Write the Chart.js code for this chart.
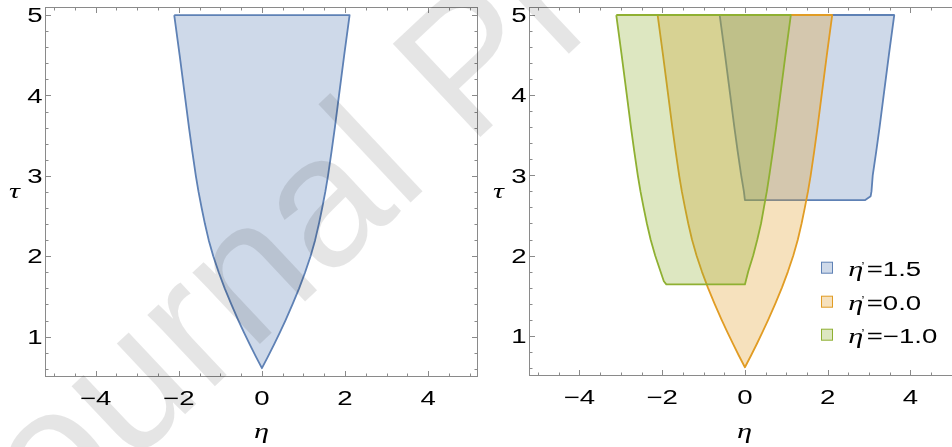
<!DOCTYPE html>
<html>
<head>
  <title>Region plots in the eta-tau plane</title>
  <script src="https://cdn.jsdelivr.net/npm/chart.js"></script>
  <style>
    body { margin: 0; background: #fff; }
    #wrap { position: relative; width: 952px; height: 447px; overflow: hidden; }
    canvas { position: absolute; top: 0; }
  </style>
</head>
<body>
<div id="wrap">
  <canvas id="leftChart" width="480" height="447" style="left:0px"></canvas>
  <canvas id="rightChart" width="482" height="447" style="left:480px"></canvas>
</div>

<script>
  // region for eta' = 0 (left panel and orange region)
  var etaZero = [-2.11, -1.98, -1.855, -1.755, -1.675, -1.59, -1.525, -1.45, -1.37, -1.28, -1.17, -1.04, -0.895, -0.735, -0.565, -0.43, -0.29, -0.145, 0,
                 0.145, 0.29, 0.43, 0.565, 0.735, 0.895, 1.04, 1.17, 1.28, 1.37, 1.45, 1.525, 1.59, 1.675, 1.755, 1.855, 1.98, 2.11, -2.11];
  var tauZero = [5, 4.5, 4.0, 3.6, 3.3, 3.0, 2.8, 2.6, 2.4, 2.2, 2.0, 1.8, 1.6, 1.4, 1.2, 1.05, 0.9, 0.75, 0.607,
                 0.75, 0.9, 1.05, 1.2, 1.4, 1.6, 1.8, 2.0, 2.2, 2.4, 2.6, 2.8, 3.0, 3.3, 3.6, 4.0, 4.5, 5, 5];

  // eta' = 1.5
  var etaBlue = [-0.61, -0.48, -0.355, -0.255, -0.175, -0.09, -0.025, 0.0, 2.90, 3.04, 3.06, 3.09, 3.175, 3.255, 3.355, 3.48, 3.61, -0.61];
  var tauBlue = [5, 4.5, 4.0, 3.6, 3.3, 3.0, 2.8, 2.69, 2.69, 2.74, 2.8, 3.0, 3.3, 3.6, 4.0, 4.5, 5, 5];

  // eta' = -1.0
  var etaGreen = [-3.11, -2.98, -2.855, -2.755, -2.675, -2.59, -2.525, -2.45, -2.37, -2.28, -2.17, -2.04, -1.96, -1.90, 0.0,
                  0.08, 0.20, 0.30, 0.39, 0.46, 0.53, 0.59, 0.675, 0.755, 0.855, 0.98, 1.11, -3.11];
  var tauGreen = [5, 4.5, 4.0, 3.6, 3.3, 3.0, 2.8, 2.6, 2.4, 2.2, 2.0, 1.8, 1.68, 1.64, 1.64,
                  1.8, 2.0, 2.2, 2.4, 2.6, 2.8, 3.0, 3.3, 3.6, 4.0, 4.5, 5, 5];

  var legendValues = ['1.5', '0.0', '\u22121.0'];

  // axes
  var xMajor = [-4, -2, 0, 2, 4];
  var xLabels = ['\u22124', '\u22122', '0', '2', '4'];
  var xMinor = [-5, -4.5, -3.5, -3, -2.5, -1.5, -1, -0.5, 0.5, 1, 1.5, 2.5, 3, 3.5, 4.5, 5];
  var yMajor = [1, 2, 3, 4, 5];
  var yLabels = ['1', '2', '3', '4', '5'];
  var yMinor = [0.6, 0.8, 1.2, 1.4, 1.6, 1.8, 2.2, 2.4, 2.6, 2.8, 3.2, 3.4, 3.6, 3.8, 4.2, 4.4, 4.6, 4.8, 5.0];

  var BLUE = '#5E81B5', ORANGE = '#E19C24', GREEN = '#8FB032';
  var SX = 1.38; // figure text is stretched sideways
  var SANS = '20px "Liberation Sans"';
  var SERIF = 'italic 22px "Liberation Serif"';

  function toPoints(etas, taus) {
    return etas.map(function (e, i) { return { x: e, y: taus[i] }; });
  }

  function alpha(hex, a) {
    var n = parseInt(hex.slice(1), 16);
    return 'rgba(' + (n >> 16) + ',' + ((n >> 8) & 255) + ',' + (n & 255) + ',' + a + ')';
  }

  function region(etas, taus, color, order) {
    return {
      data: toPoints(etas, taus),
      showLine: true,
      fill: 'shape',
      borderColor: color,
      backgroundColor: alpha(color, 0.3),
      borderWidth: 1.8,
      borderJoinStyle: 'round',
      pointRadius: 0,
      tension: 0,
      order: order
    };
  }

  function stretchText(ctx, str, x, y, align, font) {
    ctx.save();
    ctx.translate(x, y);
    ctx.scale(SX, 1);
    ctx.font = font;
    ctx.textAlign = align;
    ctx.textBaseline = 'alphabetic';
    ctx.fillStyle = '#000';
    ctx.fillText(str, 0, 0);
    ctx.restore();
  }

  function drawWatermark(ctx, offsetX) {
    var fs = 186, ang = -43.2 * Math.PI / 180;
    ctx.save();
    ctx.translate(-offsetX, 0);
    ctx.font = fs + 'px "Liberation Sans"';
    var back = ctx.measureText('Journa').width + 0.113 * fs;
    var ox = 416.7 - back * Math.cos(ang), oy = 196.7 - back * Math.sin(ang);
    ctx.translate(ox, oy);
    ctx.rotate(ang);
    ctx.fillStyle = 'rgba(0,0,0,0.1)';
    ctx.textAlign = 'left';
    ctx.textBaseline = 'alphabetic';
    ctx.fillText('Journal Pre-proof', 0, 0);
    ctx.restore();
  }

  function framePlugin(offsetX, withLegend) {
    return {
      id: 'frame',
      afterDraw: function (chart) {
        var ctx = chart.ctx, a = chart.chartArea;
        var xs = chart.scales.x, ys = chart.scales.y;
        var L = Math.round(a.left) + 0.5, R = Math.round(a.right) - 0.5;
        var T = Math.round(a.top) + 0.5, B = Math.round(a.bottom) + 0.5;

        ctx.save();
        ctx.strokeStyle = '#8a8a8a';
        ctx.lineWidth = 1;
        ctx.strokeRect(L, T, R - L, B - T);
        ctx.beginPath();
        function xt(v, len) {
          var p = Math.round(xs.getPixelForValue(v)) + 0.5;
          ctx.moveTo(p, B); ctx.lineTo(p, B - len);
          ctx.moveTo(p, T); ctx.lineTo(p, T + len);
        }
        function yt(v, len) {
          var p = Math.round(ys.getPixelForValue(v)) + 0.5;
          ctx.moveTo(L, p); ctx.lineTo(L + len, p);
          ctx.moveTo(R, p); ctx.lineTo(R - len, p);
        }
        xMajor.forEach(function (v) { xt(v, 5.5); });
        xMinor.forEach(function (v) { xt(v, 3); });
        yMajor.forEach(function (v) { yt(v, 5.5); });
        yMinor.forEach(function (v) { yt(v, 3); });
        ctx.stroke();
        ctx.restore();

        xMajor.forEach(function (v, i) {
          stretchText(ctx, xLabels[i], xs.getPixelForValue(v), B + 28, 'center', SANS);
        });
        yMajor.forEach(function (v, i) {
          stretchText(ctx, yLabels[i], L - 3, ys.getPixelForValue(v) + 7.2, 'right', SANS);
        });

        // axis labels
        stretchText(ctx, '\u03b7', (L + R) / 2, 437.5, 'center', SERIF);
        stretchText(ctx, '\u03c4', L - 31, (T + B) / 2 + 6, 'center', SERIF);

        if (withLegend) {
          var colors = [BLUE, ORANGE, GREEN];
          var base = [276, 310, 343];
          colors.forEach(function (c, i) {
            var cy = base[i] - 8.3;
            ctx.save();
            ctx.fillStyle = alpha(c, 0.3);
            ctx.strokeStyle = c;
            ctx.lineWidth = 1;
            ctx.fillRect(341.5, cy - 5.5, 11, 11);
            ctx.strokeRect(341.5, cy - 5.5, 11, 11);
            ctx.restore();
            stretchText(ctx, '\u03b7', 368.3, base[i], 'left', SERIF);
            ctx.save();
            ctx.font = '13px "Liberation Sans"';
            ctx.fillStyle = '#000';
            ctx.textAlign = 'left';
            ctx.fillText('\u2019', 381.5, base[i] - 5);
            ctx.restore();
            stretchText(ctx, '=' + legendValues[i], 386.7, base[i], 'left', SANS);
          });
        }

        drawWatermark(ctx, offsetX);
      }
    };
  }

  function makeOptions(padLeft, padBottom) {
    return {
      responsive: false,
      animation: false,
      events: [],
      layout: { padding: { left: padLeft, right: 2, top: 7, bottom: padBottom } },
      scales: {
        x: { type: 'linear', display: false, min: -5.22, max: 5.2 },
        y: { type: 'linear', display: false, min: 0.51, max: 5.1 }
      },
      plugins: { legend: { display: false }, tooltip: { enabled: false } }
    };
  }

  new Chart(document.getElementById('leftChart').getContext('2d'), {
    type: 'scatter',
    data: { datasets: [region(etaZero, tauZero, BLUE, 1)] },
    options: makeOptions(45, 71),
    plugins: [framePlugin(0, false)]
  });

  new Chart(document.getElementById('rightChart').getContext('2d'), {
    type: 'scatter',
    data: {
      datasets: [
        region(etaBlue, tauBlue, BLUE, 3),
        region(etaZero, tauZero, ORANGE, 2),
        region(etaGreen, tauGreen, GREEN, 1)
      ]
    },
    options: makeOptions(49, 72),
    plugins: [framePlugin(480, true)]
  });
</script>
</body>
</html>
